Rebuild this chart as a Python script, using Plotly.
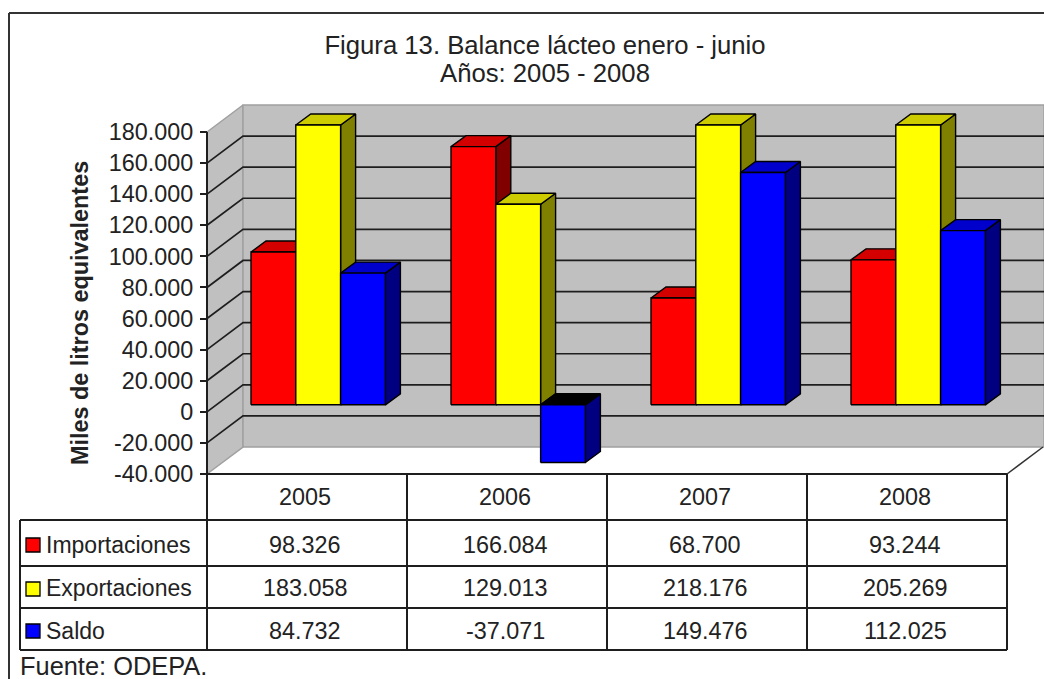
import plotly.graph_objects as go

# ---- data -------------------------------------------------------------
years = ["2005", "2006", "2007", "2008"]
importaciones = [98326, 166084, 68700, 93244]
exportaciones = [183058, 129013, 218176, 205269]
saldo = [84732, -37071, 149476, 112025]
series_names = ["Importaciones", "Exportaciones", "Saldo"]
tick_values = [-40000, -20000, 0, 20000, 40000, 60000, 80000, 100000, 120000, 140000, 160000, 180000]

# ---- page / scale -----------------------------------------------------
W, H = 1044, 679
X0, CAT_W = 207, 200        # px of category 0 left edge, px per category
Y_LOW, Y_TOP = 474, 132     # px of -40000 and of 180000
K = (Y_LOW - Y_TOP) / 220000  # px per unit
AXMAX = 180000
xr = [-X0 / CAT_W, (W - X0) / CAT_W]
yr = [-40000 - (H - Y_LOW) / K, 180000 + Y_TOP / K]
dx = lambda p: p / CAT_W
dy = lambda p: p / K
px = lambda x: x / W
py = lambda y: 1 - y / H

TXT = "#222222"
FONT = "Liberation Sans, Arial, sans-serif"
FS = 23.4
FS_TITLE = 25.7
WALL = "#c0c0c0"
LINE = "#1e1e1e"

fig = go.Figure()


def poly(xs, ys, fill, line="#000000", w=1.4):
    fig.add_trace(go.Scatter(x=xs + xs[:1], y=ys + ys[:1], mode="lines", fill="toself",
                             fillcolor=fill, line=dict(color=line, width=w),
                             hoverinfo="skip", showlegend=False))


# walls
WDX, WDY = dx(36), dy(27)
poly([0, WDX, WDX, 0], [-40000, -40000 + WDY, AXMAX + WDY, AXMAX], WALL, "#a0a0a0", 1.5)
poly([WDX, xr[1], xr[1], WDX], [-40000 + WDY, -40000 + WDY, AXMAX + WDY, AXMAX + WDY], WALL, "#a0a0a0", 1.5)

# gridlines over walls (side wall + back wall)
for t in tick_values[1:-1]:
    fig.add_trace(go.Scatter(x=[0, WDX, xr[1]], y=[t, t + WDY, t + WDY], mode="lines",
                             line=dict(color=LINE, width=1.7), hoverinfo="skip", showlegend=False))

# floor right edge
fig.add_trace(go.Scatter(x=[4, 4 + WDX], y=[-40000, -40000 + WDY], mode="lines",
                         line=dict(color="#333333", width=1.5), hoverinfo="skip", showlegend=False))

# bars
BAR_OFF, BAR_W = dx(44), dx(44.8)
SHIFT = dy(7)
BDX, BDY = dx(15), dy(11)
styles = [("#ff0000", "#800000", "#d40000"),
          ("#ffff00", "#808000", "#cccc00"),
          ("#0000ff", "#000080", "#0000cc")]
for c in range(len(years)):
    for s, vals in enumerate([importaciones, exportaciones, saldo]):
        v = min(vals[c], AXMAX)
        face, side, top = styles[s]
        x0 = c + BAR_OFF + s * BAR_W
        x1 = x0 + BAR_W
        y0, y1 = SHIFT, SHIFT + v
        hi = max(y0, y1)
        lo = min(y0, y1)
        poly([x1, x1 + BDX, x1 + BDX, x1], [lo, lo + BDY, hi + BDY, hi], side)
        poly([x0, x0 + BDX, x1 + BDX, x1], [hi, hi + BDY, hi + BDY, hi], top if v > 0 else "#000000")
        poly([x0, x1, x1, x0], [lo, lo, hi, hi], face)

# ---- table ------------------------------------------------------------
COLS = [X0 + i * CAT_W for i in range(5)]
ROWS = [474, 520, 566, 608, 650]
ROW_TEXT = [545, 588, 631]
KEY_Y = [545, 589, 631]
shapes = []


def seg(x0, y0, x1, y1, color=LINE, w=2):
    shapes.append(dict(type="line", xref="paper", yref="paper", x0=px(x0), y0=py(y0), x1=px(x1), y1=py(y1),
                       line=dict(color=color, width=w), layer="above"))


seg(X0, Y_TOP, X0, ROWS[-1])                    # value axis and first table column
for x in COLS[1:]:
    seg(x, ROWS[0], x, ROWS[-1])
seg(X0, ROWS[0], COLS[-1], ROWS[0])
for y in ROWS[1:]:
    seg(20, y, COLS[-1], y)
seg(20, ROWS[1], 20, ROWS[-1])
seg(9, 13, 9, H, "#333333", 2)                  # outer frame
seg(9, 13, W, 13, "#333333", 2)

ann = []


def fmt(v):
    return f"{v:,}".replace(",", ".")


def note(x, y, text, size, anchor="center", **kw):
    ann.append(dict(x=px(x), y=py(y), text=text, xref="paper", yref="paper", showarrow=False,
                    xanchor=anchor, yanchor="middle", font=dict(family=FONT, size=size, color=TXT), **kw))


for r, vals in enumerate([importaciones, exportaciones, saldo]):
    for c, v in enumerate(vals):
        note(X0 + (c + 0.5) * CAT_W - 2, ROW_TEXT[r], fmt(v), FS)
    note(44, ROW_TEXT[r], series_names[r], 23, "left")
    shapes.append(dict(type="rect", xref="paper", yref="paper", layer="above",
                       x0=px(26), x1=px(40), y0=py(KEY_Y[r] + 7), y1=py(KEY_Y[r] - 7),
                       fillcolor=styles[r][0], line=dict(color="#000000", width=1.3)))
note(18, 666, "Fuente: ODEPA.", 25.4, "left")
note(80, 313, "<b>Miles de litros equivalentes</b>", 23.4, textangle=-90)
note(545, 73, "Años: 2005 - 2008", FS_TITLE)

fig.update_layout(
    width=W, height=H, autosize=False, margin=dict(l=0, r=0, t=0, b=0),
    paper_bgcolor="white", plot_bgcolor="white", showlegend=False,
    font=dict(family=FONT, size=FS, color=TXT),
    title=dict(text="Figura 13. Balance lácteo enero - junio",
               x=545 / W, xanchor="center", y=py(45), yanchor="middle",
               font=dict(family=FONT, size=FS_TITLE, color=TXT)),
    xaxis=dict(range=xr, domain=[0, 1], anchor="free", position=py(Y_LOW), showgrid=False, zeroline=False,
               showline=False, ticks="", tickmode="array", tickvals=[0.49, 1.49, 2.49, 3.49], ticktext=years,
               ticklabelstandoff=7, tickfont=dict(family=FONT, size=FS, color=TXT)),
    yaxis=dict(range=yr, domain=[0, 1], anchor="free", position=px(X0), showgrid=False, zeroline=False,
               showline=False, ticks="outside", ticklen=7, tickwidth=2, tickcolor=LINE, tickmode="array",
               tickvals=tick_values, ticktext=[fmt(t) for t in tick_values], ticklabelstandoff=2,
               tickfont=dict(family=FONT, size=FS, color=TXT)),
    shapes=shapes, annotations=ann,
)

fig.write_html("out.html", config=dict(displayModeBar=False),
               post_script="document.body.style.margin='0';document.body.style.overflow='hidden';")
